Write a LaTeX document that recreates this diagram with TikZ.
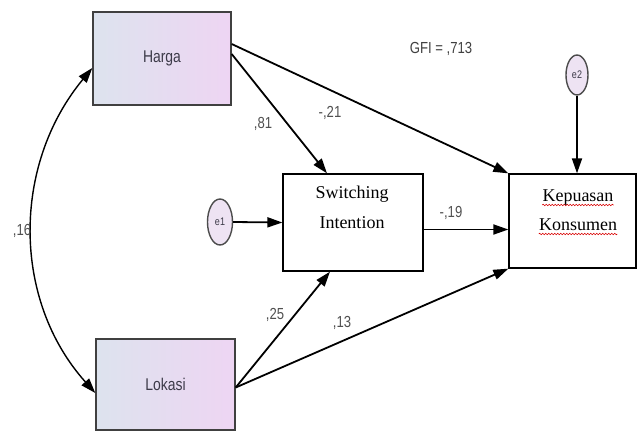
\documentclass[tikz,border=0pt]{standalone}
\usepackage{fontspec}
\setmainfont{Liberation Sans}
\newfontfamily\narrowsans[FakeStretch=0.82]{Liberation Sans}
\newfontfamily\serifface{Liberation Serif}
\usetikzlibrary{arrows.meta,decorations.pathmorphing,calc,shapes.geometric}
\definecolor{shadeL}{HTML}{DDE3EE}
\definecolor{shadeR}{HTML}{EED5F3}
\definecolor{errfill}{HTML}{EEE3F3}
\definecolor{boxtext}{HTML}{3C3A48}
\definecolor{coef}{HTML}{505050}

\tikzset{
  observed/.style={draw=black!75, line width=1.4pt, left color=shadeL, right color=shadeR,
    inner sep=0pt, font=\narrowsans\fontsize{17}{20}\selectfont, text=boxtext},
  latentbox/.style={draw=black, line width=1.3pt, fill=white, inner sep=0pt},
  errterm/.style={ellipse, draw=black!70, line width=1.4pt, fill=errfill, inner sep=0pt,
    font=\narrowsans\fontsize{11}{12}\selectfont, text=boxtext},
  path/.style={line width=1.8pt, -{Triangle[length=15pt,width=10pt]}},
  coeff/.style={font=\narrowsans\fontsize{16}{18}\selectfont, text=coef, inner sep=0pt},
  serifline/.style={font=\serifface\fontsize{18}{20}\selectfont, inner sep=0pt, anchor=base},
  spellmark/.style={draw=red!85!black, line width=0.6pt,
    decorate, decoration={snake, amplitude=0.8pt, segment length=3pt}}
}

\begin{document}
\begin{tikzpicture}[x=1pt,y=-1pt]
\useasboundingbox[fill=white] (0,0) rectangle (638,432);

% observed exogenous variables
\node[observed, minimum width=138pt, minimum height=93pt] (harga) at (162,58.5) {Harga};
\node[observed, minimum width=139pt, minimum height=91pt] (lokasi) at (165.5,384.5) {Lokasi};

% endogenous variables
\node[latentbox, minimum width=140pt, minimum height=97pt] (si) at (353,222.5) {};
\node[serifline] (si1) at (352,198) {Switching};
\node[serifline] (si2) at (352,228) {Intention};

\node[latentbox, minimum width=127pt, minimum height=94pt] (kep) at (572.5,221) {};
\node[serifline] (kep1) at (578,201) {Kepuasan};
\node[serifline] (kep2) at (578,230) {Konsumen};
\draw[spellmark] ([yshift=-4pt]kep1.base west) -- ([yshift=-4pt]kep1.base east);
\draw[spellmark] ([yshift=-4pt]kep2.base west) -- ([yshift=-4pt]kep2.base east);

% error terms
\node[errterm, minimum width=25pt, minimum height=46pt] (e1) at (220,222) {e1};
\node[errterm, minimum width=22pt, minimum height=40pt] (e2) at (577,75) {e2};

% structural paths
\draw[path] ([yshift=14.5pt]harga.east) -- (kep.north west);
\draw[path] ([yshift=4.5pt]harga.east) -- ([xshift=-26pt]si.north);
\draw[path] ([yshift=-3pt]lokasi.east) -- ([xshift=-23pt]si.south);
\draw[path] ([yshift=-3pt]lokasi.east) -- (kep.south west);
\draw[path] ([yshift=-7pt]si.east) -- ([yshift=-7pt]si.east -| kep.west);
\draw[path] (e1.east) -- (si.west);
\draw[path] (e2.south) -- (e2.south |- kep.north);

% covariance between the exogenous variables
\draw[line width=1.4pt, {Triangle[length=15pt,width=10pt]}-{Triangle[length=15pt,width=10pt]}]
  ([yshift=-9.5pt]harga.west) .. controls (12,165) and (12,300) .. ([yshift=-8.5pt]lokasi.west);

% estimates
\node[coeff] (c16) at (22,231) {,16};
\node[coeff] (c81) at (263,124) {,81};
\node[coeff] (c21) at (330,113) {-,21};
\node[coeff] (c19) at (451,213) {-,19};
\node[coeff] (c25) at (275,315) {,25};
\node[coeff] (c13) at (342,323) {,13};
\node[coeff, text=black!75] (gfi) at (441,49) {GFI = ,713};
\end{tikzpicture}
\end{document}
